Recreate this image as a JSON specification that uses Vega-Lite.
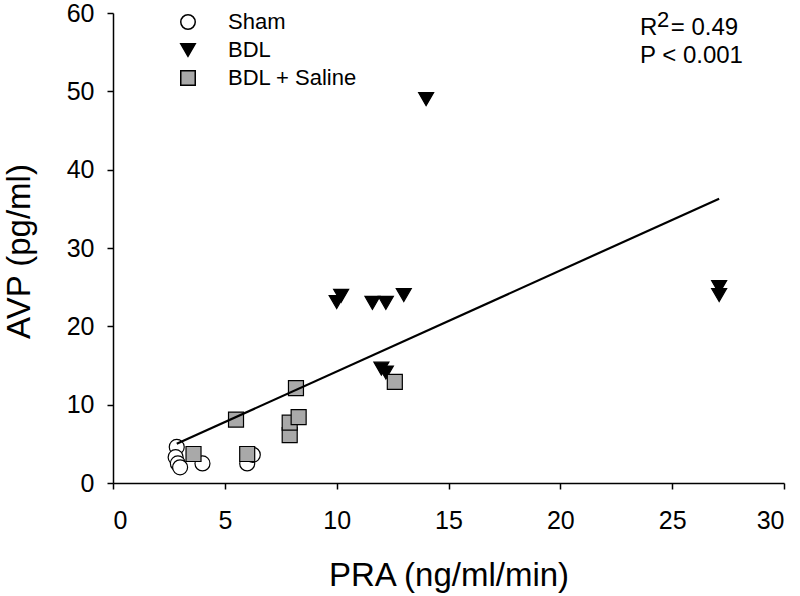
{
  "$schema": "https://vega.github.io/schema/vega-lite/v6.json",
  "width": 671,
  "height": 470,
  "autosize": {"type": "none"},
  "padding": {"left": 113, "top": 13, "right": 16, "bottom": 113},
  "background": "white",
  "config": {
    "view": {"stroke": null},
    "font": "Liberation Sans",
    "axis": {
      "grid": false,
      "domainColor": "black",
      "domainWidth": 1.5,
      "tickColor": "black",
      "tickWidth": 1.5,
      "tickSize": 6,
      "labelFont": "Liberation Sans",
      "labelFontSize": 25,
      "labelColor": "black",
      "titleFont": "Liberation Sans",
      "titleFontSize": 33,
      "titleFontWeight": "normal",
      "titleColor": "black"
    },
    "legend": {
      "labelFont": "Liberation Sans",
      "labelFontSize": 22,
      "labelColor": "black"
    }
  },
  "layer": [
    {
      "data": {
        "values": [
          {"group": "Sham", "pra": 2.85, "avp": 4.6},
          {"group": "Sham", "pra": 2.8, "avp": 3.3},
          {"group": "Sham", "pra": 2.9, "avp": 2.5},
          {"group": "Sham", "pra": 3.0, "avp": 2.0},
          {"group": "Sham", "pra": 4.0, "avp": 2.5},
          {"group": "Sham", "pra": 6.0, "avp": 2.5},
          {"group": "Sham", "pra": 6.25, "avp": 3.6},
          {"group": "BDL", "pra": 10.0, "avp": 23.1},
          {"group": "BDL", "pra": 10.2, "avp": 23.9},
          {"group": "BDL", "pra": 11.6, "avp": 23.0},
          {"group": "BDL", "pra": 12.2, "avp": 23.0},
          {"group": "BDL", "pra": 13.0, "avp": 24.0},
          {"group": "BDL", "pra": 12.0, "avp": 14.6},
          {"group": "BDL", "pra": 12.2, "avp": 14.1},
          {"group": "BDL", "pra": 14.0, "avp": 49.0},
          {"group": "BDL", "pra": 27.1, "avp": 25.0},
          {"group": "BDL", "pra": 27.1, "avp": 24.0},
          {"group": "BDL + Saline", "pra": 3.6, "avp": 3.7},
          {"group": "BDL + Saline", "pra": 6.0, "avp": 3.7},
          {"group": "BDL + Saline", "pra": 5.5, "avp": 8.1},
          {"group": "BDL + Saline", "pra": 7.9, "avp": 6.1},
          {"group": "BDL + Saline", "pra": 7.9, "avp": 7.7},
          {"group": "BDL + Saline", "pra": 8.3, "avp": 8.4},
          {"group": "BDL + Saline", "pra": 8.18, "avp": 12.1},
          {"group": "BDL + Saline", "pra": 12.6, "avp": 12.9}
        ]
      },
      "mark": {"type": "point", "filled": true, "opacity": 1, "stroke": "black", "strokeWidth": 1.2, "size": 225},
      "encoding": {
        "x": {
          "field": "pra", "type": "quantitative",
          "scale": {"domain": [0, 30], "nice": false},
          "axis": {"values": [0, 5, 10, 15, 20, 25, 30], "title": "PRA (ng/ml/min)", "labelPadding": 19, "titleBaseline": "alphabetic", "titleY": 102}
        },
        "y": {
          "field": "avp", "type": "quantitative",
          "scale": {"domain": [0, 60], "nice": false},
          "axis": {"values": [0, 10, 20, 30, 40, 50, 60], "title": "AVP (pg/ml)", "labelPadding": 13, "titleBaseline": "alphabetic", "titleX": -84, "titleY": 238}
        },
        "shape": {
          "field": "group", "type": "nominal",
          "scale": {"domain": ["Sham", "BDL", "BDL + Saline"], "range": ["circle", "triangle-down", "square"]},
          "legend": {
            "title": null, "orient": "none", "legendX": 64, "legendY": -2,
            "symbolSize": 210,
            "labelOffset": 29, "rowPadding": 6, "padding": 0,
            "encode": {"symbols": {"update": {"stroke": {"value": "black"}, "strokeWidth": {"value": 1.2}}}}
          }
        },
        "fill": {
          "field": "group", "type": "nominal",
          "scale": {"domain": ["Sham", "BDL", "BDL + Saline"], "range": ["white", "black", "#a9a9a9"]},
          "legend": {
            "title": null, "orient": "none", "legendX": 64, "legendY": -2,
            "symbolSize": 210,
            "labelOffset": 29, "rowPadding": 6, "padding": 0,
            "encode": {"symbols": {"update": {"stroke": {"value": "black"}, "strokeWidth": {"value": 1.2}}}}
          }
        }
      }
    },
    {
      "data": {"values": [{"pra": 2.85, "avp": 5.0}, {"pra": 27.1, "avp": 36.3}]},
      "mark": {"type": "line", "color": "black", "strokeWidth": 2.2},
      "encoding": {
        "x": {"field": "pra", "type": "quantitative"},
        "y": {"field": "avp", "type": "quantitative"}
      }
    },
    {
      "data": {
        "values": [
          {"pra": 23.56, "avp": 57.2, "t": "R"},
          {"pra": 24.94, "avp": 57.2, "t": "= 0.49"},
          {"pra": 23.56, "avp": 53.6, "t": "P < 0.001"}
        ]
      },
      "mark": {"type": "text", "align": "left", "baseline": "alphabetic", "fontSize": 24, "font": "Liberation Sans", "color": "black"},
      "encoding": {
        "x": {"field": "pra", "type": "quantitative"},
        "y": {"field": "avp", "type": "quantitative"},
        "text": {"field": "t"}
      }
    },
    {
      "data": {"values": [{"pra": 24.32, "avp": 58.2, "t": "2"}]},
      "mark": {"type": "text", "align": "left", "baseline": "alphabetic", "fontSize": 22, "font": "Liberation Sans", "color": "black"},
      "encoding": {
        "x": {"field": "pra", "type": "quantitative"},
        "y": {"field": "avp", "type": "quantitative"},
        "text": {"field": "t"}
      }
    }
  ]
}
